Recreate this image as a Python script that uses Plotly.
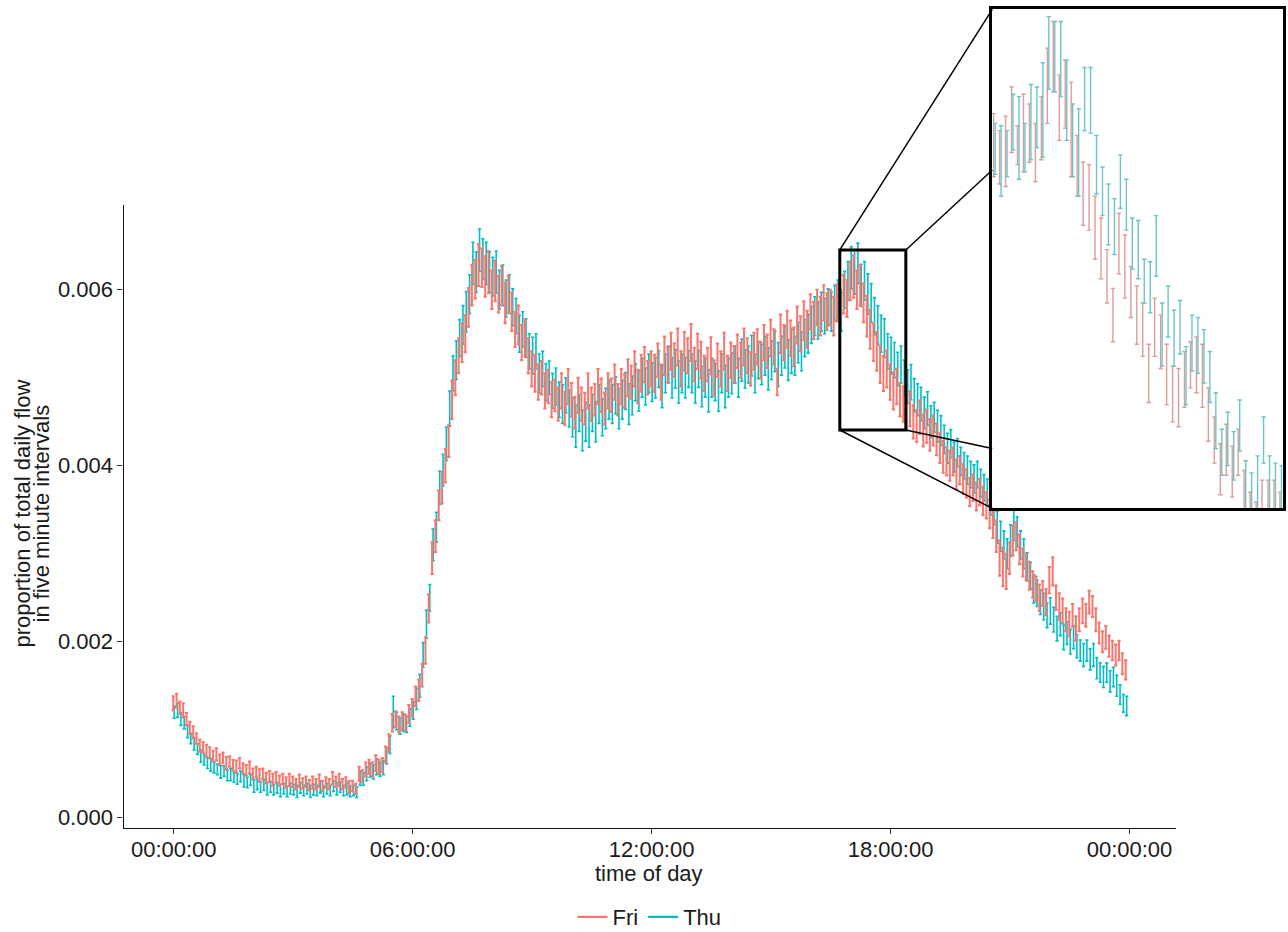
import plotly.graph_objects as go

W, H = 1288, 932

# ---------------- data (values in thousandths, i.e. 1.30 -> 0.00130) ----------------
series_names = ["Fri", "Thu"]
series_colors = ["#F8766D", "#00BFC4"]
inset_colors = ["#DB9E9A", "#6CC4C7"]

x_tick_vals = [0, 360, 720, 1080, 1440]
x_tick_text = ["00:00:00", "06:00:00", "12:00:00", "18:00:00", "00:00:00"]
y_tick_vals = [0.000, 0.002, 0.004, 0.006]
y_tick_text = ["0.000", "0.002", "0.004", "0.006"]

# five-minute slots of the day (minutes since midnight)
slot_minutes = list(range(0, 1440, 5))

fri_mean = [
    1.30, 1.33, 1.25, 1.22, 1.12, 1.02, 0.97, 0.90, 0.82, 0.80, 0.76, 0.74,
    0.70, 0.72, 0.66, 0.68, 0.62, 0.64, 0.60, 0.58, 0.62, 0.56, 0.54, 0.57,
    0.50, 0.52, 0.48, 0.50, 0.45, 0.47, 0.43, 0.46, 0.42, 0.44, 0.40, 0.43,
    0.41, 0.38, 0.42, 0.39, 0.41, 0.37, 0.40, 0.38, 0.42, 0.36, 0.40, 0.38,
    0.45, 0.41, 0.43, 0.38, 0.40, 0.35, 0.36, 0.33, 0.50, 0.47, 0.55, 0.58,
    0.55, 0.62, 0.58, 0.60, 0.72, 0.85, 1.08, 1.12, 1.06, 1.10, 1.08, 1.18,
    1.25, 1.38, 1.45, 1.62, 1.90, 2.38, 2.95, 3.20, 3.55, 3.75, 4.00, 4.28,
    4.75, 5.00, 5.25, 5.40, 5.50, 5.80, 6.05, 6.12, 6.28, 6.25, 6.15, 6.20,
    6.00, 6.10, 5.95, 6.05, 5.85, 5.95, 5.75, 5.55, 5.60, 5.40, 5.45, 5.25,
    5.10, 5.05, 4.95, 5.00, 4.85, 4.90, 4.75, 4.80, 4.70, 4.85, 4.65, 4.90,
    4.75, 4.60, 4.80, 4.70, 4.65, 4.85, 4.70, 4.75, 4.90, 4.80, 4.65, 4.85,
    4.80, 4.95, 4.75, 4.90, 4.85, 5.00, 4.95, 5.10, 4.90, 5.05, 5.15, 5.00,
    5.10, 5.05, 5.20, 4.95, 5.25, 5.15, 5.30, 5.20, 5.35, 5.10, 5.30, 5.25,
    5.40, 5.15, 5.30, 5.20, 5.05, 5.15, 5.25, 5.00, 5.20, 5.10, 5.30, 5.05,
    5.20, 5.15, 5.30, 5.20, 5.35, 5.25, 5.10, 5.30, 5.35, 5.20, 5.40, 5.30,
    5.45, 5.35, 4.95, 5.50, 5.40, 5.55, 5.45, 5.35, 5.60, 5.50, 5.65, 5.55,
    5.75, 5.65, 5.80, 5.70, 5.85, 5.75, 5.80, 5.70, 5.85, 5.80, 5.95, 5.90,
    6.10, 6.15, 6.00, 6.05, 5.85, 5.70, 5.55, 5.40, 5.30, 5.15, 5.05, 5.10,
    4.95, 4.85, 4.90, 4.75, 4.70, 4.60, 4.65, 4.50, 4.45, 4.55, 4.40, 4.45,
    4.35, 4.40, 4.30, 4.20, 4.10, 4.05, 4.00, 4.05, 3.90, 3.95, 3.85, 3.80,
    3.70, 3.75, 3.65, 3.70, 3.60, 3.55, 3.45, 3.35, 3.20, 2.95, 2.85, 2.80,
    2.95, 3.15, 3.20, 3.05, 2.90, 2.85, 2.75, 2.65, 2.60, 2.50, 2.55, 2.45,
    2.70, 2.80, 2.50, 2.40, 2.35, 2.25, 2.20, 2.30, 2.15, 2.25, 2.35, 2.30,
    2.45, 2.40, 2.25, 2.10, 2.00, 2.05, 1.95, 1.90, 1.85, 1.90, 1.75, 1.68,
]

fri_err = [
    0.08, 0.08, 0.07, 0.08, 0.07, 0.07, 0.07, 0.06, 0.07, 0.06, 0.07, 0.06,
    0.06, 0.07, 0.06, 0.06, 0.07, 0.06, 0.06, 0.07, 0.06, 0.06, 0.06, 0.07,
    0.06, 0.06, 0.07, 0.06, 0.06, 0.06, 0.07, 0.06, 0.06, 0.06, 0.06, 0.07,
    0.06, 0.06, 0.07, 0.06, 0.06, 0.06, 0.07, 0.06, 0.07, 0.06, 0.06, 0.06,
    0.07, 0.06, 0.07, 0.06, 0.06, 0.07, 0.06, 0.06, 0.08, 0.07, 0.08, 0.08,
    0.08, 0.09, 0.08, 0.08, 0.09, 0.10, 0.10, 0.09, 0.09, 0.10, 0.09, 0.10,
    0.10, 0.11, 0.12, 0.13, 0.15, 0.16, 0.18, 0.18, 0.17, 0.18, 0.19, 0.18,
    0.22, 0.20, 0.20, 0.22, 0.21, 0.22, 0.23, 0.22, 0.24, 0.22, 0.23, 0.24,
    0.22, 0.23, 0.21, 0.22, 0.23, 0.21, 0.22, 0.20, 0.22, 0.20, 0.21, 0.20,
    0.20, 0.21, 0.20, 0.19, 0.20, 0.19, 0.20, 0.18, 0.19, 0.20, 0.19, 0.20,
    0.19, 0.18, 0.20, 0.19, 0.18, 0.20, 0.19, 0.18, 0.20, 0.19, 0.18, 0.20,
    0.19, 0.20, 0.18, 0.20, 0.19, 0.21, 0.19, 0.20, 0.19, 0.21, 0.20, 0.19,
    0.20, 0.21, 0.19, 0.20, 0.22, 0.20, 0.21, 0.19, 0.21, 0.20, 0.22, 0.20,
    0.21, 0.19, 0.20, 0.21, 0.20, 0.19, 0.21, 0.20, 0.19, 0.20, 0.21, 0.20,
    0.20, 0.21, 0.19, 0.20, 0.21, 0.20, 0.19, 0.21, 0.20, 0.21, 0.20, 0.19,
    0.21, 0.20, 0.15, 0.22, 0.20, 0.21, 0.20, 0.22, 0.21, 0.20, 0.22, 0.21,
    0.20, 0.21, 0.20, 0.22, 0.20, 0.21, 0.20, 0.22, 0.21, 0.20, 0.22, 0.21,
    0.22, 0.24, 0.22, 0.23, 0.22, 0.23, 0.22, 0.21, 0.22, 0.21, 0.20, 0.21,
    0.20, 0.21, 0.20, 0.19, 0.20, 0.19, 0.20, 0.19, 0.18, 0.19, 0.18, 0.19,
    0.18, 0.17, 0.18, 0.17, 0.18, 0.16, 0.17, 0.16, 0.17, 0.16, 0.17, 0.16,
    0.16, 0.15, 0.16, 0.15, 0.16, 0.15, 0.16, 0.17, 0.18, 0.20, 0.22, 0.20,
    0.18, 0.17, 0.16, 0.17, 0.16, 0.15, 0.16, 0.15, 0.14, 0.15, 0.14, 0.15,
    0.15, 0.16, 0.14, 0.15, 0.14, 0.13, 0.14, 0.13, 0.14, 0.13, 0.14, 0.13,
    0.13, 0.12, 0.13, 0.12, 0.12, 0.13, 0.12, 0.11, 0.12, 0.11, 0.12, 0.11,
]

thu_mean = [
    1.20, 1.22, 1.12, 1.08, 0.98, 0.90, 0.84, 0.78, 0.70, 0.66, 0.62, 0.60,
    0.57, 0.55, 0.52, 0.53, 0.48, 0.49, 0.46, 0.44, 0.47, 0.42, 0.40, 0.43,
    0.36, 0.38, 0.35, 0.37, 0.33, 0.35, 0.32, 0.34, 0.31, 0.33, 0.30, 0.33,
    0.32, 0.30, 0.34, 0.31, 0.33, 0.30, 0.32, 0.31, 0.35, 0.30, 0.33, 0.31,
    0.36, 0.33, 0.35, 0.31, 0.33, 0.30, 0.31, 0.29, 0.45, 0.44, 0.50, 0.54,
    0.52, 0.58, 0.55, 0.57, 0.70, 0.83, 1.20, 1.10, 1.04, 1.08, 1.06, 1.14,
    1.22, 1.35, 1.50, 1.85, 2.20, 2.50, 3.10, 3.30, 3.75, 3.95, 4.25, 4.65,
    5.05, 5.20, 5.45, 5.60, 5.75, 5.95, 6.30, 6.20, 6.45, 6.35, 6.30, 6.20,
    6.15, 6.20, 6.00, 6.05, 5.90, 5.95, 5.80, 5.70, 5.50, 5.55, 5.45, 5.30,
    5.25, 5.30, 5.05, 5.10, 4.95, 5.00, 4.85, 4.90, 4.75, 4.70, 4.80, 4.65,
    4.55, 4.45, 4.60, 4.40, 4.50, 4.45, 4.60, 4.50, 4.70, 4.55, 4.65, 4.75,
    4.70, 4.80, 4.65, 4.75, 4.85, 4.70, 4.80, 4.95, 4.85, 5.00, 4.90, 5.05,
    4.95, 5.00, 5.10, 4.90, 5.05, 5.15, 5.00, 5.10, 4.95, 5.05, 5.00, 5.10,
    5.05, 4.95, 5.10, 4.90, 5.00, 4.85, 5.00, 4.95, 4.85, 5.05, 4.90, 5.00,
    5.05, 5.15, 5.00, 5.20, 5.10, 5.15, 5.25, 5.05, 5.20, 5.15, 5.25, 5.10,
    5.20, 5.30, 5.15, 5.25, 5.35, 5.20, 5.30, 5.25, 5.40, 5.30, 5.45, 5.50,
    5.60, 5.70, 5.65, 5.75, 5.70, 5.80, 5.75, 5.85, 5.90, 5.75, 6.00, 6.10,
    6.25, 6.20, 6.30, 6.05, 6.10, 5.95, 5.85, 5.70, 5.60, 5.50, 5.45, 5.30,
    5.25, 5.20, 5.10, 5.15, 5.00, 4.90, 4.95, 4.80, 4.75, 4.70, 4.60, 4.65,
    4.50, 4.55, 4.45, 4.40, 4.30, 4.20, 4.25, 4.10, 4.15, 4.05, 4.00, 3.95,
    3.90, 3.85, 3.90, 3.80, 3.75, 3.70, 3.60, 3.50, 3.30, 3.20, 3.10, 3.00,
    3.15, 3.35, 3.25, 3.10, 3.00, 2.85, 2.75, 2.60, 2.55, 2.45, 2.40, 2.30,
    2.35, 2.25, 2.15, 2.20, 2.05, 2.10, 2.00, 2.05, 1.95, 1.90, 1.85, 1.90,
    1.80, 1.85, 1.70, 1.65, 1.60, 1.65, 1.55, 1.60, 1.50, 1.40, 1.30, 1.27,
]

thu_err = [
    0.07, 0.08, 0.07, 0.07, 0.07, 0.06, 0.07, 0.06, 0.07, 0.06, 0.06, 0.07,
    0.06, 0.06, 0.07, 0.06, 0.06, 0.07, 0.06, 0.06, 0.06, 0.07, 0.06, 0.06,
    0.07, 0.06, 0.06, 0.06, 0.07, 0.06, 0.06, 0.06, 0.07, 0.06, 0.06, 0.06,
    0.06, 0.07, 0.06, 0.06, 0.06, 0.07, 0.06, 0.06, 0.07, 0.06, 0.06, 0.06,
    0.06, 0.07, 0.06, 0.06, 0.07, 0.06, 0.06, 0.06, 0.08, 0.07, 0.08, 0.08,
    0.08, 0.09, 0.08, 0.08, 0.09, 0.10, 0.18, 0.10, 0.09, 0.10, 0.09, 0.10,
    0.10, 0.12, 0.13, 0.14, 0.16, 0.15, 0.18, 0.17, 0.19, 0.18, 0.19, 0.20,
    0.20, 0.22, 0.21, 0.22, 0.23, 0.22, 0.24, 0.23, 0.24, 0.23, 0.24, 0.23,
    0.22, 0.24, 0.22, 0.23, 0.21, 0.22, 0.21, 0.20, 0.21, 0.20, 0.22, 0.20,
    0.21, 0.20, 0.22, 0.20, 0.21, 0.19, 0.20, 0.21, 0.20, 0.22, 0.20, 0.21,
    0.22, 0.24, 0.21, 0.23, 0.22, 0.24, 0.21, 0.23, 0.22, 0.21, 0.23, 0.22,
    0.22, 0.21, 0.23, 0.22, 0.21, 0.23, 0.22, 0.21, 0.23, 0.22, 0.21, 0.22,
    0.22, 0.23, 0.21, 0.24, 0.22, 0.21, 0.23, 0.22, 0.24, 0.22, 0.23, 0.21,
    0.22, 0.24, 0.21, 0.23, 0.22, 0.24, 0.22, 0.21, 0.23, 0.22, 0.24, 0.22,
    0.23, 0.21, 0.22, 0.24, 0.22, 0.21, 0.23, 0.22, 0.21, 0.23, 0.22, 0.24,
    0.22, 0.23, 0.25, 0.22, 0.24, 0.23, 0.25, 0.22, 0.23, 0.22, 0.21, 0.22,
    0.21, 0.22, 0.21, 0.22, 0.20, 0.21, 0.22, 0.20, 0.21, 0.22, 0.21, 0.22,
    0.24, 0.25, 0.23, 0.24, 0.22, 0.23, 0.22, 0.21, 0.22, 0.21, 0.22, 0.20,
    0.21, 0.20, 0.19, 0.21, 0.20, 0.19, 0.20, 0.19, 0.18, 0.19, 0.18, 0.19,
    0.18, 0.17, 0.18, 0.17, 0.16, 0.17, 0.16, 0.17, 0.16, 0.16, 0.15, 0.16,
    0.15, 0.16, 0.15, 0.16, 0.15, 0.15, 0.16, 0.17, 0.18, 0.17, 0.16, 0.17,
    0.18, 0.20, 0.17, 0.16, 0.17, 0.16, 0.15, 0.16, 0.15, 0.14, 0.15, 0.14,
    0.15, 0.14, 0.14, 0.13, 0.14, 0.13, 0.14, 0.13, 0.13, 0.12, 0.13, 0.12,
    0.12, 0.13, 0.12, 0.11, 0.12, 0.11, 0.12, 0.11, 0.12, 0.11, 0.10, 0.11,
]

# inset: finer (two-minute) detail of the late-afternoon peak, 16:40 onward
inset_minutes = list(range(1000, 1098, 2))
inset_fri_hi = [
    6.06, 5.99, 6.05, 6.17, 6.01, 6.14, 6.10, 6.02, 6.13, 6.33, 6.44, 6.22,
    6.28, 6.19, 5.97, 5.86, 5.85, 5.72, 5.63, 5.50, 5.34, 5.65, 5.56, 5.43,
    5.35, 5.28, 5.11, 5.30, 5.23, 5.11, 5.02, 5.01, 5.08, 5.12, 5.14, 5.11,
    4.93, 4.81, 4.70, 4.78, 4.69, 4.76, 4.59, 4.50, 4.46, 4.55, 4.55, 4.55,
    4.50,
]
inset_fri_lo = [
    5.80, 5.77, 5.76, 5.90, 5.85, 5.82, 5.86, 5.78, 5.87, 6.02, 6.15, 5.95,
    6.00, 5.80, 5.72, 5.60, 5.58, 5.46, 5.38, 5.28, 5.12, 5.40, 5.30, 5.22,
    5.11, 5.06, 4.87, 5.06, 5.01, 4.86, 4.79, 4.77, 4.85, 4.93, 4.91, 4.85,
    4.71, 4.62, 4.49, 4.57, 4.48, 4.57, 4.38, 4.30, 4.28, 4.37, 4.36, 4.36,
    4.31,
]
inset_thu_hi = [
    6.02, 6.01, 5.99, 6.14, 6.13, 6.02, 6.18, 6.17, 6.27, 6.46, 6.44, 6.44,
    6.28, 6.10, 6.08, 6.25, 6.25, 5.97, 5.84, 5.77, 5.71, 5.89, 5.79, 5.63,
    5.62, 5.46, 5.45, 5.64, 5.28, 5.35, 5.25, 5.29, 5.10, 5.23, 5.22, 5.17,
    5.08, 4.91, 4.76, 4.83, 4.75, 4.88, 4.63, 4.58, 4.65, 4.81, 4.65, 4.62,
    4.61,
]
inset_thu_lo = [
    5.81, 5.72, 5.80, 5.91, 5.79, 5.82, 5.87, 5.92, 5.88, 6.16, 6.15, 6.13,
    5.95, 5.80, 5.72, 5.99, 5.98, 5.73, 5.64, 5.52, 5.48, 5.67, 5.58, 5.42,
    5.38, 5.28, 5.24, 5.39, 5.02, 5.14, 5.02, 5.07, 4.86, 5.00, 4.99, 4.95,
    4.87, 4.68, 4.57, 4.61, 4.55, 4.67, 4.42, 4.40, 4.42, 4.62, 4.43, 4.42,
    4.41,
]

# zoom window marked on the main panel (minutes, proportion)
zoom_box_minutes = [1003.5, 1103.0]
zoom_box_values = [0.004406, 0.006452]

# ---------------- layout geometry ----------------
def fy(py):
    """picture pixel row (from top) -> paper fraction"""
    return 1 - py / H

main_x_dom = [123.5 / W, 1175.5 / W]
main_y_dom = [fy(828.3), fy(205.0)]
inset_x_dom = [992.3 / W, 1282.5 / W]
inset_y_dom = [fy(508.3), fy(9.3)]
main_x_range = [-75.7, 1509.3]
main_y_range = [-0.000120, 0.006963]
inset_x_range = [999.3, 1096.6]
inset_y_range = [0.004434, 0.00649]

FONT = "Liberation Sans, Arial, Helvetica, sans-serif"
TXT = "#1a1a1a"

fig = go.Figure()

def pm(v):
    return [a / 1000.0 for a in v]

main_sets = [
    ("Fri", fri_mean, fri_err, -0.75, series_colors[0], 2.0),
    ("Thu", thu_mean, thu_err, 0.75, series_colors[1], 1.6),
]
# draw Thu first, Fri on top
for name, mean, err, dx, col, thick in reversed(main_sets):
    fig.add_trace(go.Scatter(
        x=[m + dx for m in slot_minutes], y=pm(mean),
        mode="markers", marker=dict(size=0.1, opacity=0, color=col),
        error_y=dict(type="data", array=pm(err), visible=True,
                     color=col, thickness=thick, width=1.6),
        name=name, showlegend=False, hoverinfo="skip",
        xaxis="x", yaxis="y"))

inset_sets = [
    ("Fri", inset_fri_lo, inset_fri_hi, -0.25, inset_colors[0]),
    ("Thu", inset_thu_lo, inset_thu_hi, 0.25, inset_colors[1]),
]
for name, lo, hi, dx, col in inset_sets:
    mid = [(a + b) / 2.0 for a, b in zip(lo, hi)]
    up = [b - m for b, m in zip(hi, mid)]
    dn = [m - a for a, m in zip(lo, mid)]
    fig.add_trace(go.Scatter(
        x=[m + dx for m in inset_minutes], y=pm(mid),
        mode="markers", marker=dict(size=0.1, opacity=0, color=col),
        error_y=dict(type="data", symmetric=False, array=pm(up), arrayminus=pm(dn),
                     visible=True, color=col, thickness=1.4, width=2.2),
        name=name, showlegend=False, hoverinfo="skip",
        xaxis="x2", yaxis="y2"))

# legend entries
for name, col in zip(series_names, series_colors):
    fig.add_trace(go.Scatter(x=[None], y=[None], mode="lines",
                             line=dict(color=col, width=2.2), name=name,
                             showlegend=True, xaxis="x", yaxis="y"))

# ---------------- shapes: zoom box + connectors ----------------
def px_main(xv):
    return main_x_dom[0] + (xv - main_x_range[0]) / (main_x_range[1] - main_x_range[0]) * (main_x_dom[1] - main_x_dom[0])

def py_main(yv):
    return main_y_dom[0] + (yv - main_y_range[0]) / (main_y_range[1] - main_y_range[0]) * (main_y_dom[1] - main_y_dom[0])

def py_inset_from_top(frac):
    return inset_y_dom[1] - frac * (inset_y_dom[1] - inset_y_dom[0])

bx0, bx1 = px_main(zoom_box_minutes[0]), px_main(zoom_box_minutes[1])
by0, by1 = py_main(zoom_box_values[0]), py_main(zoom_box_values[1])
ix = inset_x_dom[0]

shapes = [
    dict(type="rect", xref="x", yref="y",
         x0=zoom_box_minutes[0], x1=zoom_box_minutes[1],
         y0=zoom_box_values[0], y1=zoom_box_values[1],
         line=dict(color="black", width=3), fillcolor="rgba(0,0,0,0)", layer="above"),
]
connectors = [
    (bx0, by1, 0.0),
    (bx1, by1, 0.322),
    (bx1, by0, 0.880),
    (bx0, by0, 1.0),
]
for x0, y0, f in connectors:
    shapes.append(dict(type="line", xref="paper", yref="paper",
                       x0=x0, y0=y0, x1=ix, y1=py_inset_from_top(f),
                       line=dict(color="black", width=1.5), layer="above"))

annotations = [
    dict(text="time of day", x=(main_x_dom[0] + main_x_dom[1]) / 2, y=fy(873),
         xref="paper", yref="paper", showarrow=False, xanchor="center", yanchor="middle",
         font=dict(family=FONT, size=22, color=TXT)),
    dict(text="proportion of total daily flow", x=21.5 / W, y=fy(514),
         xref="paper", yref="paper", showarrow=False, textangle=-90,
         xanchor="center", yanchor="middle", font=dict(family=FONT, size=22, color=TXT)),
    dict(text="in five minute intervals", x=40.5 / W, y=fy(514),
         xref="paper", yref="paper", showarrow=False, textangle=-90,
         xanchor="center", yanchor="middle", font=dict(family=FONT, size=22, color=TXT)),
]

fig.update_layout(
    width=W, height=H,
    margin=dict(l=0, r=0, t=0, b=0, autoexpand=False),
    paper_bgcolor="white", plot_bgcolor="white",
    font=dict(family=FONT, size=22, color=TXT),
    showlegend=True,
    legend=dict(orientation="h", x=(main_x_dom[0] + main_x_dom[1]) / 2, xanchor="center",
                y=fy(917), yanchor="middle", font=dict(family=FONT, size=22, color=TXT),
                itemwidth=30, bgcolor="rgba(0,0,0,0)", tracegroupgap=0),
    xaxis=dict(domain=main_x_dom, range=main_x_range, anchor="y",
               showline=True, linecolor="#111", linewidth=1.3,
               ticks="outside", ticklen=5, tickwidth=1.2, tickcolor="#333",
               tickvals=x_tick_vals, ticktext=x_tick_text, ticklabelstandoff=-4,
               tickfont=dict(family=FONT, size=22, color=TXT),
               showgrid=False, zeroline=False, automargin=False),
    yaxis=dict(domain=main_y_dom, range=main_y_range, anchor="x",
               showline=True, linecolor="#111", linewidth=1.3,
               ticks="outside", ticklen=5, tickwidth=1.2, tickcolor="#333",
               tickvals=y_tick_vals, ticktext=y_tick_text,
               tickfont=dict(family=FONT, size=22, color=TXT),
               showgrid=False, zeroline=False, automargin=False),
    xaxis2=dict(domain=inset_x_dom, range=inset_x_range, anchor="y2",
                showline=True, mirror=True, linecolor="black", linewidth=3,
                showticklabels=False, ticks="", showgrid=False, zeroline=False),
    yaxis2=dict(domain=inset_y_dom, range=inset_y_range, anchor="x2",
                showline=True, mirror=True, linecolor="black", linewidth=3,
                showticklabels=False, ticks="", showgrid=False, zeroline=False),
    shapes=shapes,
    annotations=annotations,
)

fig.write_html(
    "out.html",
    config={"displayModeBar": False},
    post_script=(
        "document.documentElement.style.margin='0';"
        "document.body.style.margin='0';"
        "document.documentElement.style.overflow='hidden';"
        "document.body.style.overflow='hidden';"
        "document.querySelectorAll('.svg-container').forEach(function(e){e.style.display='block';});"
    ),
)
